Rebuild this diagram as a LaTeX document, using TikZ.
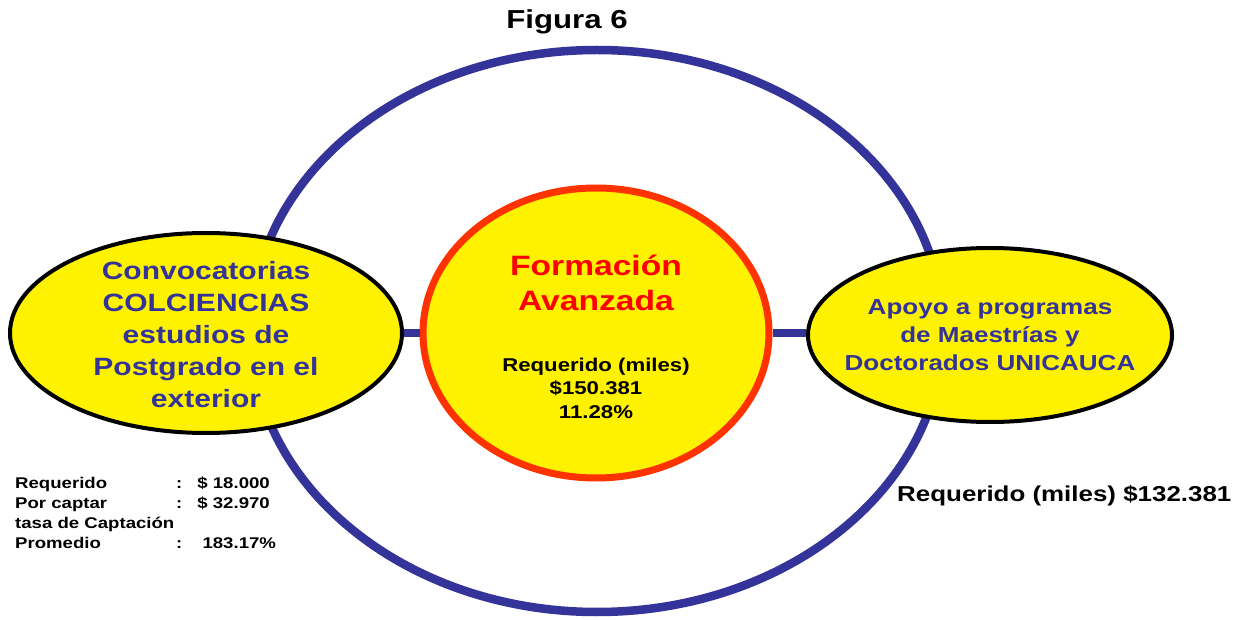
\documentclass[tikz,border=0pt]{standalone}
\usepackage{fontspec}
\setmainfont{Liberation Sans}[FakeStretch=1.2]
\usepackage{xcolor}
\usetikzlibrary{shapes.geometric}

\definecolor{ringblue}{HTML}{333399}
\definecolor{coreedge}{HTML}{FF3300}

\begin{document}
\begin{tikzpicture}[x=1pt,y=-1pt]
\tikzset{every node/.style={font=\bfseries,inner sep=0pt}}
\tikzset{ring/.style={ellipse,draw=ringblue,line width=8.5pt,minimum width=692pt,minimum height=562pt}}
\tikzset{bubble/.style={ellipse,draw=black,fill=yellow,line width=4pt}}
\tikzset{core/.style={ellipse,draw=coreedge,fill=yellow,line width=7pt,minimum width=346pt,minimum height=290pt}}
\tikzset{link/.style={draw=ringblue,line width=8.5pt}}
\tikzset{bluetext/.style={text=ringblue,align=center}}

\useasboundingbox (0,0) rectangle (1251,620);

\node[font=\bfseries\fontsize{26}{30}\selectfont] (fig) at (567,22) {Figura 6};

\node[ring] (ring) at (597,331) {};

\node[core] (core) at (596,333) {};
\node[bubble,minimum width=392pt,minimum height=200pt] (colc) at (206,333) {};
\node[bubble,minimum width=364pt,minimum height=174pt] (unic) at (990,335) {};

\draw[link] (colc.east) -- (core.west);
\draw[link] (core.east) -- (core.east -| unic.west);

% textos
\node[bluetext,font=\bfseries\fontsize{25}{32}\selectfont] (colcT) at (206,335)
  {Convocatorias\\COLCIENCIAS\\estudios de\\Postgrado en el\\exterior};
\node[text=red,align=center,font=\bfseries\fontsize{28}{35}\selectfont] (coreT) at (596,283)
  {Formación\\Avanzada};
\node[align=center,font=\bfseries\fontsize{18.5}{23.5}\selectfont] (coreA) at (596,388)
  {Requerido (miles)\\\$150.381\\11.28\%};
\node[bluetext,font=\bfseries\fontsize{21.7}{28}\selectfont] (unicT) at (990,335)
  {Apoyo a programas\\de Maestrías y\\Doctorados UNICAUCA};

\node[anchor=west,font=\bfseries\fontsize{21.6}{26}\selectfont] (unicA) at (897,496)
  {Requerido (miles) \$132.381};

\node[anchor=north west,font=\bfseries\fontsize{15.5}{20}\selectfont] (colcA) at (15,474)
  {\begin{tabular}{@{}p{161pt}@{}l@{\hspace{15pt}}l@{}}
   Requerido & : & \$ 18.000\\
   Por captar & : & \$ 32.970\\
   \multicolumn{3}{@{}l@{}}{tasa de Captación}\\
   Promedio & : & \ 183.17\%
   \end{tabular}};

\end{tikzpicture}
\end{document}
